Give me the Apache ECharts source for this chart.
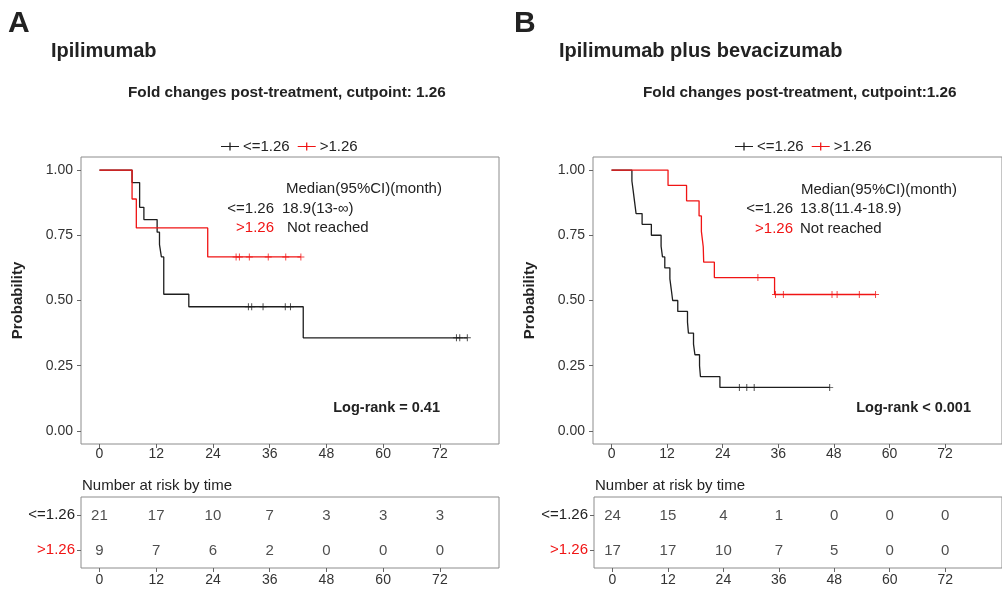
<!DOCTYPE html>
<html>
<head>
<meta charset="utf-8">
<script src="https://cdn.jsdelivr.net/npm/echarts@6/dist/echarts.min.js"></script>
<style>
  html, body { margin: 0; padding: 0; background: #fff; }
  #main { width: 1002px; height: 592px; }
</style>
</head>
<body>
<div id="main"></div>
<script>
// ---- shared labels / ticks ----
const groups = ['<=1.26', '>1.26'];
const xTicks = [0, 12, 24, 36, 48, 60, 72];
const yTicks = [0, 0.25, 0.5, 0.75, 1];
const riskTimes = [0, 12, 24, 36, 48, 60, 72];

// ---- Panel A: Ipilimumab (Kaplan-Meier steps, months / probability) ----
const aLowTime  = [0, 6.9, 8.5, 9.4, 12.2, 12.7, 13.1, 13.6, 18.9, 43.1, 77.8];
const aLowSurv  = [1, 0.952, 0.857, 0.810, 0.762, 0.714, 0.667, 0.524, 0.476, 0.357, 0.357];
const aLowCensor = [31.5, 32.2, 34.6, 39.3, 40.4, 75.5, 76.2, 77.8];
const aHighTime = [0, 6.9, 7.8, 22.9, 42.6];
const aHighSurv = [1, 0.889, 0.778, 0.667, 0.667];
const aHighCensor = [28.9, 29.6, 31.7, 35.7, 39.4, 42.6];
const aRiskLow  = [21, 17, 10, 7, 3, 3, 3];
const aRiskHigh = [9, 7, 6, 2, 0, 0, 0];

// ---- Panel B: Ipilimumab plus bevacizumab ----
const bLowTime  = [0, 4.4, 4.7, 5.0, 5.3, 6.6, 8.6, 10.7, 11.0, 11.5, 12.6, 12.9, 13.2, 14.3, 16.4, 16.6, 17.7, 18.0, 19.0, 19.2, 23.4, 47.1];
const bLowSurv  = [1, 0.958, 0.917, 0.875, 0.833, 0.792, 0.750, 0.708, 0.667, 0.625, 0.583, 0.542, 0.500, 0.458, 0.417, 0.375, 0.333, 0.292, 0.250, 0.208, 0.167, 0.167];
const bLowCensor = [27.6, 29.2, 30.8, 47.1];
const bHighTime = [0, 12.2, 16.2, 18.9, 19.4, 19.8, 19.9, 22.2, 35.2, 57.0];
const bHighSurv = [1, 0.941, 0.882, 0.824, 0.765, 0.706, 0.647, 0.588, 0.523, 0.523];
const bHighCensor = [31.6, 35.4, 37.1, 47.6, 48.7, 53.5, 57.0];
const bRiskLow  = [24, 15, 4, 1, 0, 0, 0];
const bRiskHigh = [17, 17, 10, 7, 5, 0, 0];

const BLACK = '#1e1e1e';
const RED = '#f01414';
const TXT = '#222';
const FONT = '"Liberation Sans", Arial, Helvetica, sans-serif';
const BORDER = '#8c8c8c';

const pairs = (t, s) => t.map((v, i) => [v, s[i]]);
function survAt(t, s, x) {
  let k = 0;
  for (let i = 0; i < t.length; i++) if (t[i] <= x) k = i;
  return s[k];
}
const censorPts = (times, t, s) => times.map(x => [x, survAt(t, s, x)]);

const PLUS = 'path://M4.3,0H5.7V4.3H10V5.7H5.7V10H4.3V5.7H0V4.3H4.3Z';
const LEGEND_ICON = 'path://M0,4.35H20V5.65H0Z M9.3,0.5H10.7V9.5H9.3Z';

const plotX = { a: { min: -3.9, max: 84.5 }, b: { min: -4.0, max: 84.3 } };

function kmAxisX(idx, min, max) {
  return {
    type: 'value', gridIndex: idx, min, max, position: 'bottom',
    axisLine: { show: false, onZero: false },
    splitLine: { show: false },
    axisTick: { show: true, length: 4, lineStyle: { color: '#666' }, customValues: xTicks },
    axisLabel: { fontSize: 14, color: '#333', fontFamily: FONT, margin: 3, customValues: xTicks }
  };
}
function kmAxisY(idx) {
  return {
    type: 'value', gridIndex: idx, min: -0.05, max: 1.05, position: 'left',
    name: 'Probability', nameLocation: 'middle', nameGap: 56,
    nameTextStyle: { fontSize: 15, fontWeight: 'bold', color: TXT, fontFamily: FONT },
    axisLine: { show: false, onZero: false },
    splitLine: { show: false },
    axisTick: { show: true, length: 4, lineStyle: { color: '#666' }, customValues: yTicks },
    axisLabel: { fontSize: 14, color: '#333', fontFamily: FONT, margin: 8,
      customValues: yTicks, formatter: v => v.toFixed(2) }
  };
}
function riskAxisX(idx, min, max) {
  const a = kmAxisX(idx, min, max);
  a.axisLabel = Object.assign({}, a.axisLabel, { margin: 5 });
  return a;
}
function riskAxisY(idx) {
  return {
    type: 'category', gridIndex: idx, data: groups, inverse: true, position: 'left',
    axisLine: { show: false, onZero: false },
    axisTick: { show: true, length: 4, alignWithLabel: true, lineStyle: { color: '#666' } },
    axisLabel: {
      margin: 6, fontFamily: FONT,
      formatter: v => (v === '>1.26' ? '{r|' + v + '}' : '{k|' + v + '}'),
      rich: { k: { fontSize: 15, color: TXT, fontFamily: FONT }, r: { fontSize: 15, color: RED, fontFamily: FONT } }
    }
  };
}
function curve(name, t, s, color, idx) {
  return {
    type: 'line', name, step: 'end', data: pairs(t, s), xAxisIndex: idx, yAxisIndex: idx,
    showSymbol: false, symbol: 'none', color, lineStyle: { color, width: 1.3 },
    animation: false, clip: false, z: 3
  };
}
function marks(times, t, s, color, idx) {
  return {
    type: 'scatter', data: censorPts(times, t, s), xAxisIndex: idx, yAxisIndex: idx,
    symbol: PLUS, symbolSize: 7, itemStyle: { color }, animation: false, z: 4
  };
}
function riskSeries(vals, group, idx) {
  return {
    type: 'scatter', xAxisIndex: idx, yAxisIndex: idx,
    data: riskTimes.map((t, i) => [t, group, vals[i]]),
    symbolSize: 1, itemStyle: { color: 'rgba(0,0,0,0)' }, animation: false,
    label: { show: true, position: 'inside', offset: [0, 1], formatter: p => String(p.value[2]),
      fontSize: 15, color: TXT, fontFamily: FONT }
  };
}

function txt(x, y, text, opts) {
  return {
    type: 'text', x, y, silent: true,
    style: Object.assign({ text, fill: TXT, font: '15px ' + FONT, textVerticalAlign: 'middle', verticalAlign: 'middle' }, opts || {})
  };
}
function boldTxt(x, y, text, size, extra) {
  return txt(x, y, text, Object.assign({ font: 'bold ' + size + 'px ' + FONT }, extra || {}));
}

const option = {
  backgroundColor: '#fff',
  animation: false,
  textStyle: { fontFamily: FONT },
  grid: [
    { left: 81, top: 157, width: 418, height: 287, show: true, borderColor: BORDER, borderWidth: 1 },
    { left: 593, top: 157, width: 418, height: 287, show: true, borderColor: BORDER, borderWidth: 1 },
    { left: 81, top: 497, width: 418, height: 71, show: true, borderColor: BORDER, borderWidth: 1 },
    { left: 594, top: 497, width: 418, height: 71, show: true, borderColor: BORDER, borderWidth: 1 }
  ],
  xAxis: [
    kmAxisX(0, plotX.a.min, plotX.a.max),
    kmAxisX(1, plotX.b.min, plotX.b.max),
    riskAxisX(2, plotX.a.min, plotX.a.max),
    riskAxisX(3, plotX.b.min, plotX.b.max)
  ],
  yAxis: [kmAxisY(0), kmAxisY(1), riskAxisY(2), riskAxisY(3)],
  legend: [
    { left: 216, top: 134, data: groups, selectedMode: false, icon: LEGEND_ICON,
      itemWidth: 18, itemHeight: 10, itemGap: 8,
      textStyle: { fontSize: 15, color: TXT, fontFamily: FONT, padding: [0, 0, 0, -1] } },
    { left: 730, top: 134, data: groups, selectedMode: false, icon: LEGEND_ICON,
      itemWidth: 18, itemHeight: 10, itemGap: 8,
      textStyle: { fontSize: 15, color: TXT, fontFamily: FONT, padding: [0, 0, 0, -1] } }
  ],
  series: [
    curve(groups[0], aLowTime, aLowSurv, BLACK, 0),
    curve(groups[1], aHighTime, aHighSurv, RED, 0),
    marks(aLowCensor, aLowTime, aLowSurv, BLACK, 0),
    marks(aHighCensor, aHighTime, aHighSurv, RED, 0),
    curve(groups[0], bLowTime, bLowSurv, BLACK, 1),
    curve(groups[1], bHighTime, bHighSurv, RED, 1),
    marks(bLowCensor, bLowTime, bLowSurv, BLACK, 1),
    marks(bHighCensor, bHighTime, bHighSurv, RED, 1),
    riskSeries(aRiskLow, groups[0], 2),
    riskSeries(aRiskHigh, groups[1], 2),
    riskSeries(bRiskLow, groups[0], 3),
    riskSeries(bRiskHigh, groups[1], 3)
  ],
  graphic: [
    // panel letters and titles
    boldTxt(8, 24, 'A', 30),
    boldTxt(514, 24, 'B', 30),
    boldTxt(51, 51, 'Ipilimumab', 20),
    boldTxt(559, 51, 'Ipilimumab plus bevacizumab', 20),
    boldTxt(128, 93, 'Fold changes post-treatment, cutpoint: 1.26', 15.3),
    boldTxt(643, 93, 'Fold changes post-treatment, cutpoint:1.26', 15.3),
    // median survival annotations, panel A
    txt(286, 189, 'Median(95%CI)(month)'),
    txt(274, 209, groups[0], { textAlign: 'right', align: 'right' }),
    txt(282, 209, '18.9(13-\u221E)'),
    txt(274, 228, groups[1], { textAlign: 'right', align: 'right', fill: RED }),
    txt(287, 228, 'Not reached'),
    boldTxt(440, 408, 'Log-rank = 0.41', 14.5, { textAlign: 'right', align: 'right' }),
    // median survival annotations, panel B
    txt(801, 190, 'Median(95%CI)(month)'),
    txt(793, 209, groups[0], { textAlign: 'right', align: 'right' }),
    txt(800, 209, '13.8(11.4-18.9)'),
    txt(793, 229, groups[1], { textAlign: 'right', align: 'right', fill: RED }),
    txt(800, 229, 'Not reached'),
    boldTxt(971, 408, 'Log-rank < 0.001', 14.5, { textAlign: 'right', align: 'right' }),
    // risk table headings
    txt(82, 486, 'Number at risk by time'),
    txt(595, 486, 'Number at risk by time')
  ]
};

const chart = echarts.init(document.getElementById('main'), null, { renderer: 'canvas' });
chart.setOption(option);
</script>
</body>
</html>
